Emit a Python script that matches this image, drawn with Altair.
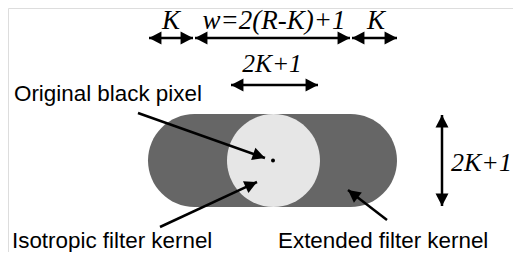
import math
import altair as alt
import pandas as pd

# --- shapes (reference pixel coordinates) ---
capsule_x = [148]; capsule_x2 = [397]; capsule_y = [114]; capsule_y2 = [207]
circle_x = [227]; circle_x2 = [320]; circle_y = [114]; circle_y2 = [207]
dot_x = [273]; dot_y = [160.5]

# --- arrows ---
arr_x1 = [149, 195, 352, 231, 442, 138, 160, 387]
arr_y1 = [38, 38, 38, 85, 115, 113, 227, 220]
arr_x2 = [193, 350, 397, 318, 442, 265, 257, 348]
arr_y2 = [38, 38, 38, 85, 206, 158, 182, 190]
arr_double = [True, True, True, True, True, False, False, False]

# --- labels ---
top_text = ["K", "w=2(R-K)+1", "K"]
top_x = [171, 274, 376]
top_y = [29, 29, 29]

mid_text = ["2K+1"]
mid_x = [272]
mid_y = [72]

side_text = ["2K+1"]
side_x = [451]
side_y = [171]

sans_text = ["Original black pixel", "Isotropic filter kernel", "Extended filter kernel"]
sans_x = [14, 12, 278]
sans_y = [101, 248, 248]

W, H = 505, 244
xs = alt.Scale(domain=[8, 513], range=[0, W], nice=False, zero=False)
ys = alt.Scale(domain=[8, 252], range=[0, H], nice=False, zero=False)


def X(f="x"):
    return alt.X(f, type="quantitative", scale=xs, axis=None)


def Y(f="y"):
    return alt.Y(f, type="quantitative", scale=ys, axis=None)


caps = alt.Chart(pd.DataFrame({"x": capsule_x, "x2": capsule_x2, "y": capsule_y, "y2": capsule_y2})).mark_rect(
    color="#666666", cornerRadius=46.5
).encode(x=X(), x2="x2", y=Y(), y2="y2")

circ = alt.Chart(pd.DataFrame({"x": circle_x, "x2": circle_x2, "y": circle_y, "y2": circle_y2})).mark_rect(
    color="#e6e6e6", cornerRadius=46.5
).encode(x=X(), x2="x2", y=Y(), y2="y2")

dot = alt.Chart(pd.DataFrame({"x": dot_x, "y": dot_y})).mark_circle(
    color="black", size=16, opacity=1
).encode(x=X(), y=Y())

lines = alt.Chart(pd.DataFrame({"x": arr_x1, "y": arr_y1, "x2": arr_x2, "y2": arr_y2})).mark_rule(
    color="black", strokeWidth=2.5
).encode(x=X(), y=Y(), x2="x2", y2="y2")

heads = []
for x1, y1, x2, y2, d in zip(arr_x1, arr_y1, arr_x2, arr_y2, arr_double):
    heads.append((x2, y2, math.degrees(math.atan2(x2 - x1, -(y2 - y1))) % 360))
    if d:
        heads.append((x1, y1, math.degrees(math.atan2(x1 - x2, -(y1 - y2))) % 360))
hdf = pd.DataFrame(heads, columns=["x", "y", "ang"])
head_layer = alt.Chart(hdf).mark_point(
    shape="M0,0L0.52,1L-0.52,1Z", filled=True, color="black", opacity=1, size=620, strokeWidth=0
).encode(x=X(), y=Y(), angle=alt.Angle("ang:Q", scale=None))


def serif(texts, xs_, ys_, size, align):
    return alt.Chart(pd.DataFrame({"t": texts, "x": xs_, "y": ys_})).mark_text(
        font="Liberation Serif", fontStyle="italic", fontSize=size, align=align,
        baseline="alphabetic", color="black"
    ).encode(x=X(), y=Y(), text="t:N")


top_l = serif(top_text, top_x, top_y, 27, "center")
mid_l = serif(mid_text, mid_x, mid_y, 25.5, "center")
side_l = serif(side_text, side_x, side_y, 26, "left")

sans = alt.Chart(pd.DataFrame({"t": sans_text, "x": sans_x, "y": sans_y})).mark_text(
    font="Liberation Sans", fontSize=22.4, align="left", baseline="alphabetic", color="black"
).encode(x=X(), y=Y(), text="t:N")

chart = alt.layer(caps, circ, dot, lines, head_layer, top_l, mid_l, side_l, sans).properties(
    width=W, height=H, padding=0, autosize=alt.AutoSizeParams(type="none")
).configure_view(stroke=None).configure(background="white")

chart.save("out.html", embed_options={"renderer": "svg", "actions": False})
